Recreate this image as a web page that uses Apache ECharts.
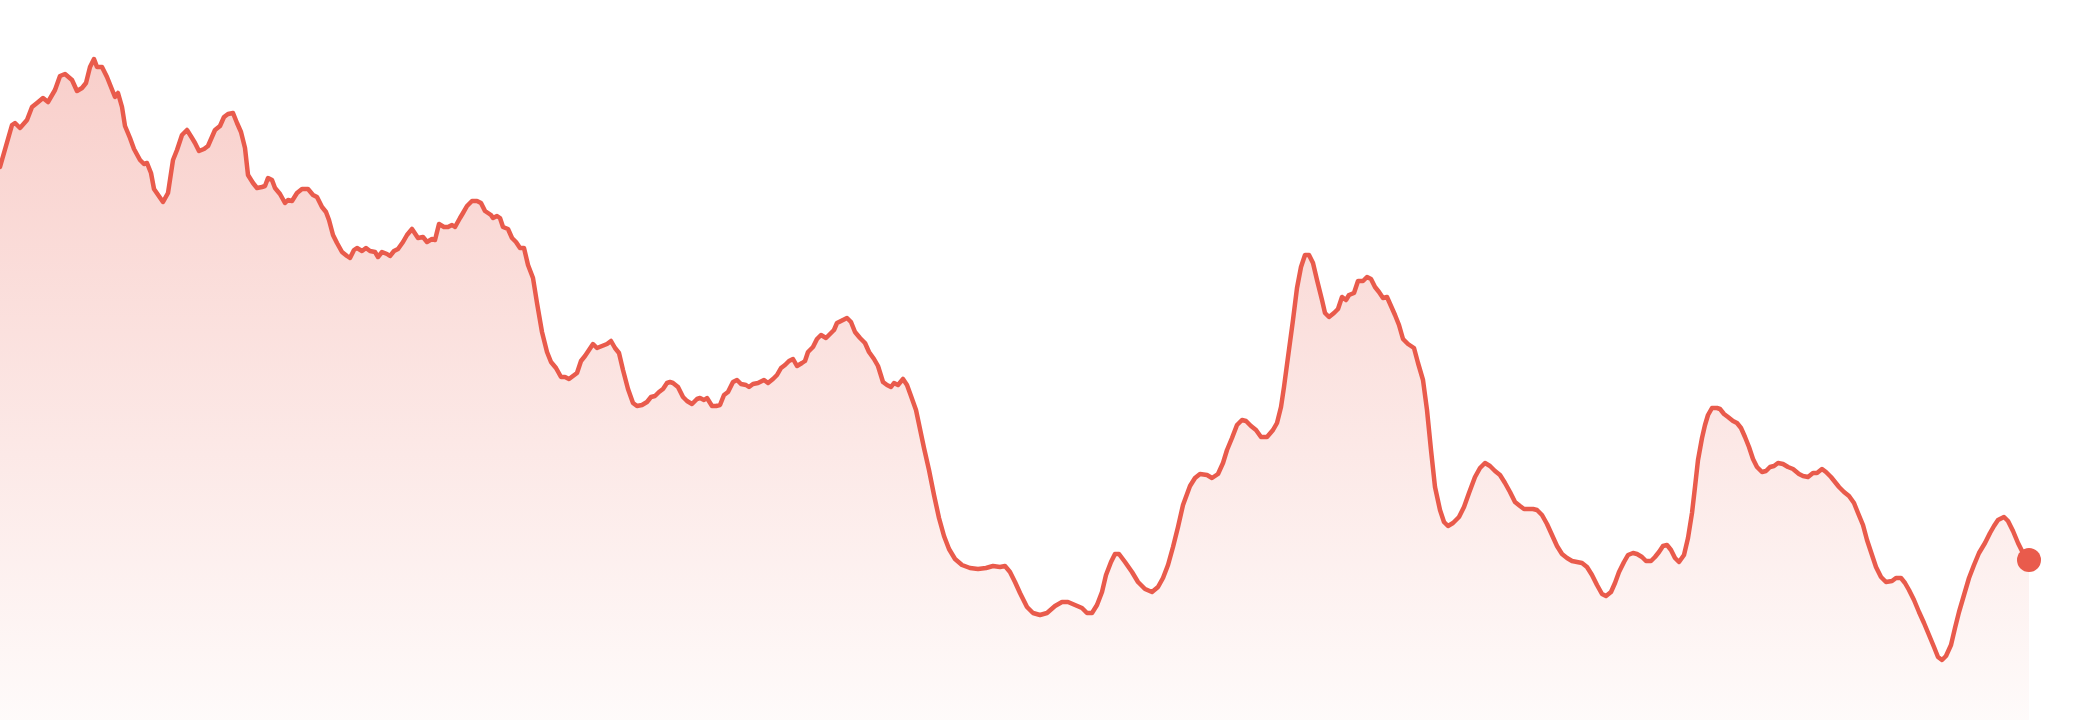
<!DOCTYPE html>
<html>
<head>
<meta charset="utf-8">
<script src="https://cdn.jsdelivr.net/npm/echarts@6/dist/echarts.min.js"></script>
<style>
html,body{margin:0;padding:0;background:#ffffff;}
#chart{width:2080px;height:720px;}
</style>
</head>
<body>
<div id="chart"></div>
<script>
// time index (session steps) and price
var t = [0,12,15,20,27,32,37,43,48,55,60,65,72,77,82,86,90,94,97,102,107,111,115,118,122,125,130,134,140,144,147,151,154,163,168,173,177,182,187,192,195,199,204,208,215,220,224,228,233,237,241,245,248,253,257,262,265,268,272,275,280,285,288,292,297,302,308,313,317,322,326,329,333,337,342,347,350,354,357,362,366,370,375,378,382,387,390,394,398,403,407,412,414,418,423,427,432,435,439,444,448,452,455,460,463,467,472,477,481,485,491,493,497,500,503,508,512,516,520,524,528,533,537,542,547,551,556,561,565,569,573,577,581,585,589,593,597,602,607,611,615,619,623,628,633,637,642,647,651,655,659,663,667,670,673,678,683,687,692,697,700,704,707,712,716,720,724,728,733,737,741,746,749,753,758,764,768,773,777,781,785,789,793,797,802,805,808,813,817,821,826,830,834,837,843,847,851,855,860,865,869,874,878,883,887,891,894,898,903,907,911,916,920,924,929,934,939,944,949,955,962,970,978,986,993,1000,1005,1010,1015,1020,1027,1033,1040,1047,1055,1062,1068,1075,1082,1087,1092,1097,1102,1106,1111,1115,1119,1125,1132,1138,1145,1152,1158,1163,1168,1173,1178,1183,1190,1195,1200,1207,1212,1218,1223,1227,1232,1237,1242,1246,1251,1256,1261,1267,1273,1277,1281,1284,1288,1293,1297,1301,1305,1309,1313,1317,1322,1325,1329,1334,1338,1342,1346,1349,1354,1358,1363,1367,1371,1375,1379,1383,1387,1391,1395,1399,1403,1408,1414,1418,1423,1427,1431,1435,1440,1444,1448,1453,1459,1464,1469,1475,1480,1485,1490,1495,1500,1505,1510,1515,1520,1524,1528,1533,1537,1542,1547,1552,1557,1562,1567,1572,1577,1582,1587,1592,1597,1602,1606,1611,1615,1619,1624,1628,1633,1637,1642,1646,1651,1655,1659,1663,1667,1671,1675,1679,1684,1688,1692,1695,1698,1702,1705,1708,1712,1717,1720,1724,1728,1733,1737,1741,1745,1749,1753,1757,1762,1766,1770,1774,1778,1783,1788,1793,1799,1803,1808,1813,1817,1822,1826,1831,1835,1839,1844,1849,1854,1858,1863,1867,1872,1876,1881,1886,1892,1896,1901,1905,1909,1914,1919,1924,1929,1934,1938,1942,1946,1951,1955,1959,1964,1969,1974,1979,1985,1990,1994,1998,2004,2008,2013,2018,2023,2029];
var price = [55.3,59.5,59.7,59.2,60.0,61.3,61.7,62.2,61.8,63.0,64.4,64.6,64.0,62.9,63.2,63.7,65.3,66.1,65.3,65.3,64.3,63.3,62.3,62.7,61.3,59.4,58.2,57.1,56.0,55.6,55.7,54.7,53.1,51.8,52.7,56.0,57.0,58.5,59.0,58.2,57.7,56.9,57.1,57.4,59.0,59.4,60.3,60.6,60.7,59.7,58.8,57.2,54.5,53.7,53.2,53.3,53.4,54.2,54.0,53.2,52.6,51.7,52.0,51.9,52.7,53.1,53.1,52.5,52.3,51.3,50.8,50.0,48.5,47.7,46.8,46.4,46.2,47.0,47.2,46.9,47.2,46.9,46.8,46.3,46.8,46.6,46.4,46.9,47.1,47.8,48.5,49.1,49.3,48.2,48.3,47.8,48.1,48.0,49.6,49.3,49.3,49.5,49.3,50.2,50.7,51.4,51.9,51.9,51.7,50.9,50.5,50.2,50.4,50.2,49.3,49.1,48.2,47.8,47.2,47.2,45.5,44.2,41.7,38.8,36.8,35.8,35.2,34.3,34.3,34.1,34.4,34.7,35.9,36.4,37.0,37.6,37.2,37.4,37.6,37.9,37.2,36.7,35.0,33.1,31.7,31.4,31.5,31.8,32.3,32.4,32.8,33.1,33.7,33.8,33.7,33.3,32.3,31.9,31.6,32.1,32.2,32.0,32.2,31.4,31.4,31.5,32.5,32.8,33.8,34.0,33.6,33.5,33.3,33.6,33.7,34.0,33.7,34.1,34.5,35.2,35.5,35.9,36.1,35.4,35.7,35.9,36.8,37.3,38.1,38.5,38.2,38.6,39.0,39.7,40.0,40.2,39.8,38.8,38.2,37.7,36.8,36.1,35.4,33.8,33.5,33.3,33.7,33.5,34.1,33.5,32.4,31.0,29.1,27.2,25.0,22.5,20.2,18.4,17.1,16.1,15.5,15.2,15.1,15.2,15.4,15.3,15.4,14.8,13.8,12.7,11.3,10.7,10.5,10.7,11.4,11.8,11.8,11.5,11.2,10.7,10.7,11.5,12.8,14.5,15.8,16.6,16.6,15.8,14.8,13.8,13.1,12.8,13.3,14.2,15.5,17.3,19.3,21.5,23.4,24.2,24.6,24.5,24.2,24.6,25.7,27.0,28.2,29.5,30.0,29.9,29.4,29.0,28.3,28.3,29.0,29.7,31.3,33.3,36.3,40.0,43.2,45.3,46.5,46.5,45.7,44.0,42.0,40.7,40.3,40.7,41.1,42.3,42.0,42.5,42.7,43.9,43.9,44.3,44.1,43.3,42.8,42.2,42.3,41.4,40.5,39.5,38.1,37.6,37.2,35.7,34.0,31.0,27.0,23.3,21.0,19.8,19.4,19.7,20.3,21.3,22.7,24.3,25.2,25.7,25.4,24.9,24.5,23.7,22.8,21.8,21.4,21.1,21.1,21.1,21.0,20.5,19.6,18.5,17.4,16.6,16.2,15.9,15.8,15.7,15.3,14.5,13.5,12.6,12.4,12.8,13.7,14.8,15.8,16.5,16.7,16.6,16.3,15.9,15.9,16.3,16.8,17.4,17.5,17.0,16.2,15.8,16.5,18.2,20.7,23.3,26.0,28.2,29.5,30.5,31.2,31.2,31.1,30.6,30.3,29.9,29.7,29.2,28.3,27.3,26.1,25.3,24.8,24.9,25.3,25.4,25.7,25.6,25.3,25.1,24.6,24.4,24.3,24.7,24.7,25.1,24.8,24.3,23.8,23.3,22.8,22.4,21.7,20.7,19.5,18.0,16.5,15.3,14.3,13.8,13.9,14.2,14.2,13.7,13.0,12.0,10.8,9.7,8.5,7.3,6.3,6.0,6.4,7.5,9.2,10.8,12.5,14.2,15.5,16.7,17.7,18.7,19.4,20.0,20.3,19.9,18.9,17.7,16.7,16.0];

var T_MAX = 2029;
var P_MIN = 0, P_MAX = 72;

var lineData = t.map(function (v, i) { return [v, price[i]]; });
var last = lineData[lineData.length - 1];
var RED = '#e95b4c';

var chart = echarts.init(document.getElementById('chart'), null, { renderer: 'canvas' });
chart.setOption({
  animation: false,
  backgroundColor: '#ffffff',
  grid: { left: 0, right: 51, top: 0, bottom: 0 },
  xAxis: { type: 'value', min: 0, max: T_MAX, show: false },
  yAxis: { type: 'value', min: P_MIN, max: P_MAX, show: false },
  series: [
    {
      type: 'line',
      data: lineData,
      symbol: 'none',
      smooth: false,
      lineStyle: { color: RED, width: 4.5, opacity: 1, join: 'round', cap: 'round' },
      areaStyle: {
        color: new echarts.graphic.LinearGradient(0, 0, 0, 1, [
          { offset: 0, color: 'rgba(233,91,76,0.42)' },
          { offset: 1, color: 'rgba(233,91,76,0.04)' }
        ])
      }
    },
    {
      type: 'scatter',
      data: [last],
      symbol: 'circle',
      symbolSize: 24,
      itemStyle: { color: RED, opacity: 1 },
      z: 5
    }
  ]
});
</script>
</body>
</html>
